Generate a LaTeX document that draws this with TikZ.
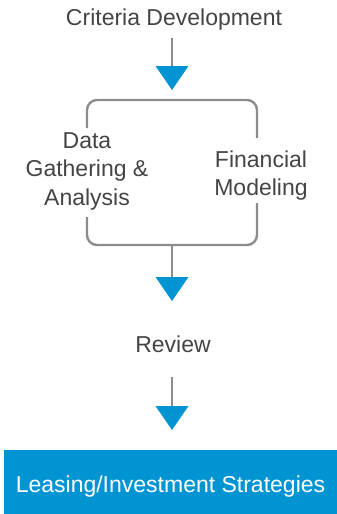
\documentclass[tikz,border=0pt]{standalone}
\usepackage{fontspec}
\setmainfont{Liberation Sans}
\usetikzlibrary{arrows.meta}
\definecolor{flowblue}{RGB}{0,148,211}
\definecolor{linegray}{RGB}{140,140,140}
\definecolor{textgray}{RGB}{68,68,68}
\begin{document}
\begin{tikzpicture}[x=1pt,y=-1pt,
  label/.style={text=textgray,font=\fontsize{23}{28.5}\selectfont,align=center,inner sep=0pt,anchor=base},
  flow/.style={draw=linegray,line width=2.4pt,
    -{Triangle[width=33pt,length=24pt,color=flowblue,fill=flowblue,line width=0pt]}},
  bracket/.style={draw=linegray,line width=2.4pt,rounded corners=10pt},
  resultbox/.style={fill=flowblue,text=white,font=\fontsize{23}{28}\selectfont,
    minimum width=333pt,minimum height=64pt,inner sep=0pt,text height=24pt,text depth=4pt}]
\useasboundingbox (0,0) rectangle (337,514);

% stage labels (base anchor sits on the last line of a multi-line label)
\node[label] (crit) at (174,25) {Criteria Development};
\node[label] (data) at (87,205) {Data\\Gathering \&\\Analysis};
\node[label] (fin) at (261,195.5) {Financial\\Modeling};
\node[label] (rev) at (173,352) {Review};
\node[resultbox] (lease) at (170.5,482) {Leasing/Investment Strategies};

% arrow end points
\coordinate (a1s) at (172,38);
\coordinate (a1e) at (172,90);
\coordinate (bmid) at (172,245);
\coordinate (a2e) at (172,301);
\coordinate (a3s) at (172,377);
\coordinate (a3e) at (172,430);

% bracket around the two parallel tasks
\draw[bracket] (87,128) -- (87,100) -- (257,100) -- (257,138);
\draw[bracket] (87,217) -- (87,245) -- (257,245) -- (257,203);

% connectors
\draw[flow] (a1s) -- (a1e);
\draw[flow] (bmid) -- (a2e);
\draw[flow] (a3s) -- (a3e);
\end{tikzpicture}
\end{document}
